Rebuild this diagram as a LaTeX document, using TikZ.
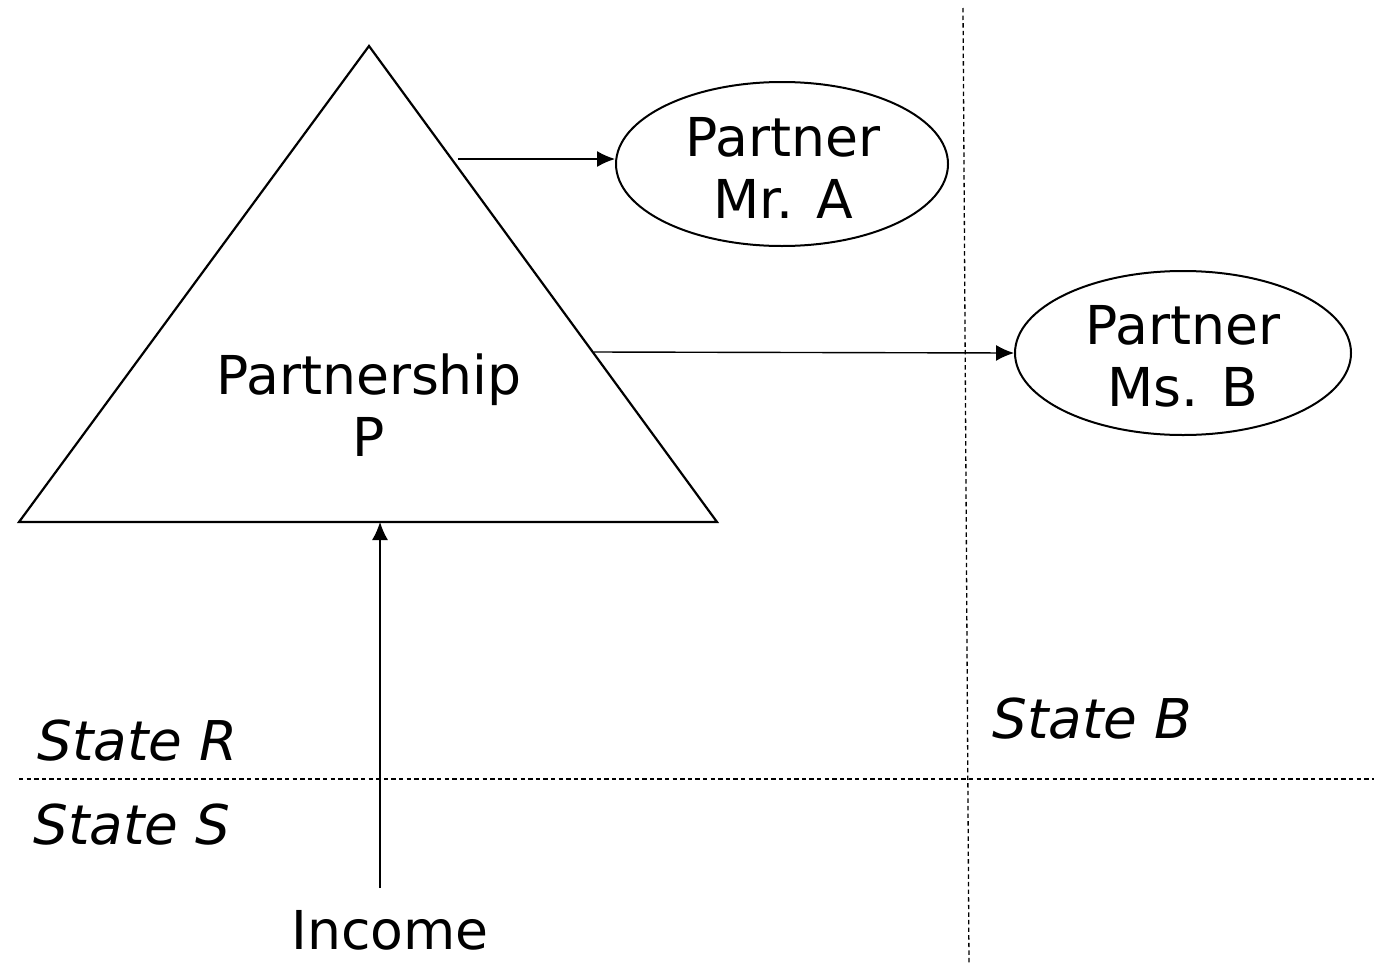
\documentclass[tikz,border=0pt]{standalone}
\usepackage{fontspec}
\setmainfont{DejaVu Sans}
\usetikzlibrary{arrows.meta,shapes.geometric}
\begin{document}
\begin{tikzpicture}[x=0.5pt,y=-0.5pt,
  lbl/.style={font=\fontsize{26.8}{31}\selectfont, align=center, inner sep=0pt},
  st/.style={font=\fontsize{27.4}{31}\selectfont\itshape, inner sep=0pt, anchor=west},
  ell/.style={draw, line width=1pt, ellipse, inner sep=0pt},
  conn/.style={line width=0.7pt, -{Latex[length=9pt,width=8pt]}},
  divider/.style={line width=0.65pt, dash pattern=on 2.2pt off 1.6pt}]
\useasboundingbox (0,0) rectangle (1374,969);
% dividers
\coordinate (vt) at (963,8);
\coordinate (vb) at (969,965);
\coordinate (hl) at (19,779);
\coordinate (hr) at (1374,779);
\draw[divider] (vt) -- (vb);
\draw[divider] (hl) -- (hr);
% triangle
\coordinate (apex) at (369,46);
\coordinate (bl) at (19,522);
\coordinate (br) at (717,522);
\draw[line width=1.1pt] (apex) -- (bl) -- (br) -- cycle;
\node[lbl] (p) at (369,405) {Partnership\\P};
% ellipses
\node[ell, minimum width=166pt, minimum height=82pt] (a) at (782,164) {};
\node[lbl] (atext) at (783,168) {Partner\\Mr. A};
\node[ell, minimum width=168pt, minimum height=82pt] (b) at (1183,353) {};
\node[lbl] (btext) at (1183,356) {Partner\\Ms. B};
% connector endpoints on triangle
\coordinate (s1) at (458,159);
\coordinate (s2) at (594,352);
\coordinate (inc) at (380,888);
\coordinate (base) at (380,522);
\draw[conn] (s1) -- (s1 -| a.west);
\draw[conn] (s2) -- (b.west);
\draw[conn] (inc) -- (base);
\node[lbl] (income) at (390,930) {Income};
% state labels
\node[st] (sr) at (37,741) {State R};
\node[st] (ss) at (33,825) {State S};
\node[st] (sb) at (992,719) {State B};
\end{tikzpicture}
\end{document}
